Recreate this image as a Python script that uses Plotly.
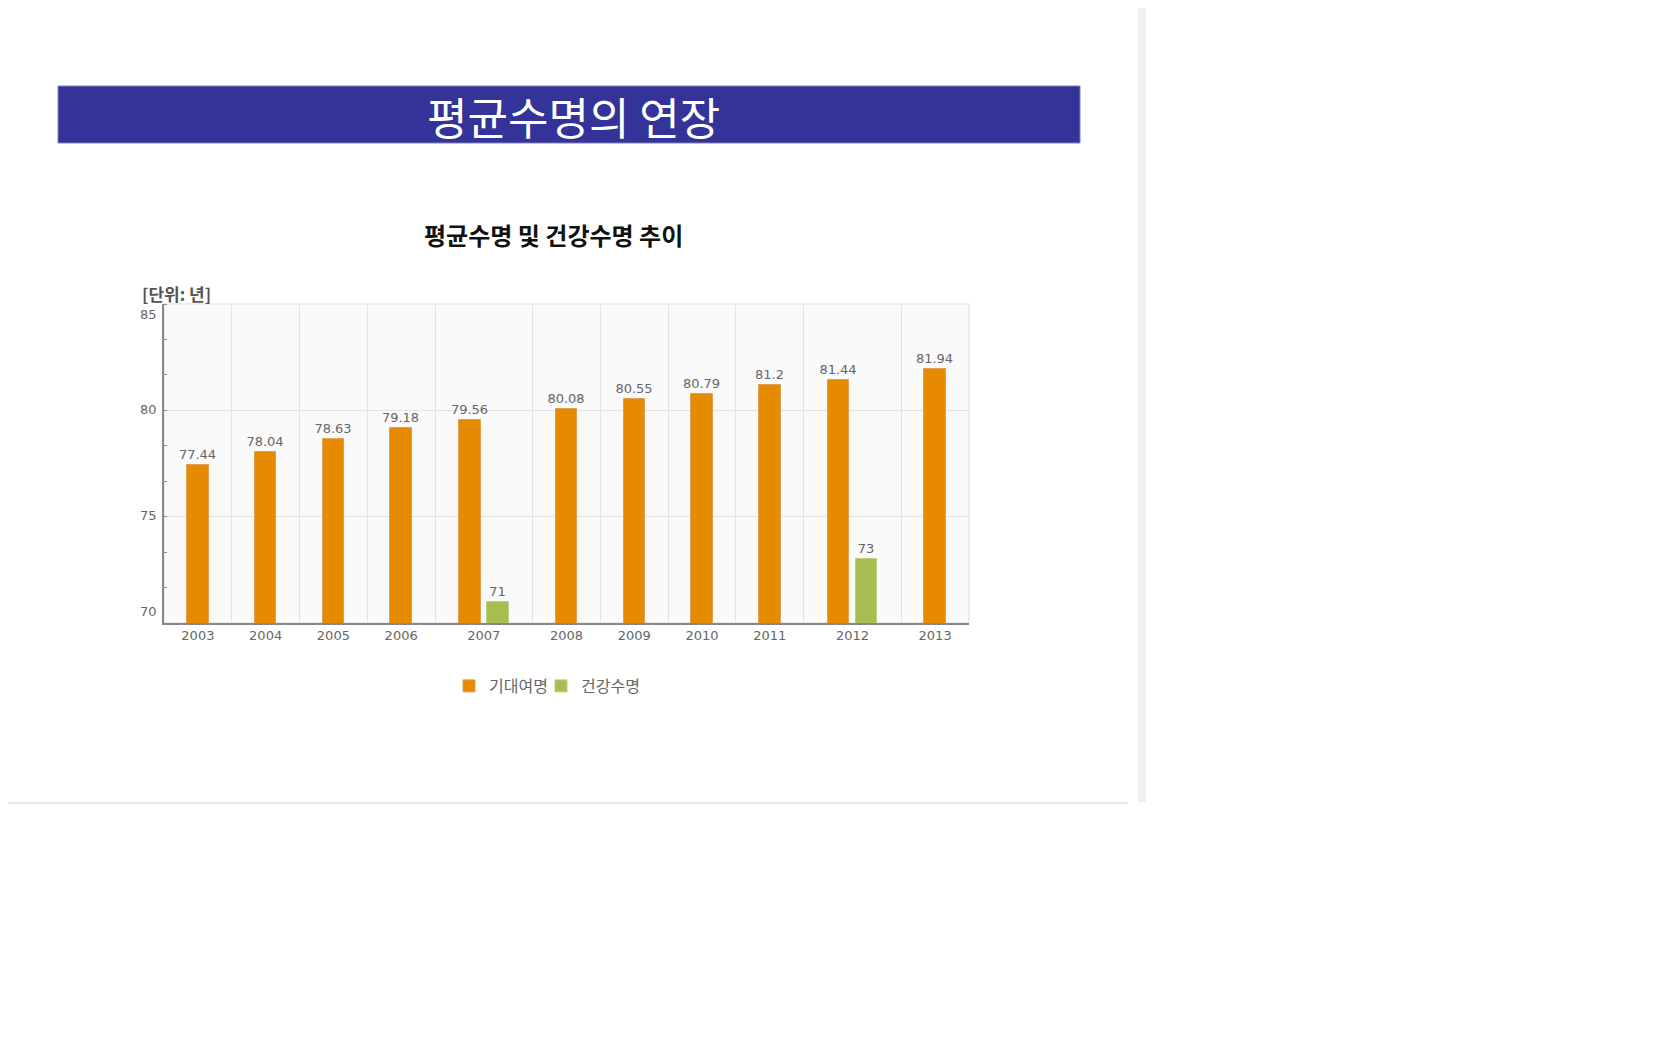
import plotly.graph_objects as go

# 평균수명 및 건강수명 추이 (단위: 년)
years = ["2003", "2004", "2005", "2006", "2007", "2008", "2009", "2010", "2011", "2012", "2013"]
life_expectancy = [77.44, 78.04, 78.63, 79.18, 79.56, 80.08, 80.55, 80.79, 81.2, 81.44, 81.94]
healthy_life = [None, None, None, None, 71, None, None, None, None, 73, None]
series_names = ["기대여명", "건강수명"]
y_ticks = [70, 75, 80, 85]

# 페이지 기본 여백(8px)을 빼고 그림 크기를 잡는다
PAD = 8
W, H = 1680 - 2 * PAD, 1050 - 2 * PAD


def px_x(v):
    return (v - PAD) / W


def px_y(v):
    return 1 - (v - PAD) / H


# 두 계열이 있는 연도는 칸을 넓게
widths = [1.44 if h is not None else 1.0 for h in healthy_life]
edges = [0.0]
for w in widths:
    edges.append(edges[-1] + w)
centers = [(edges[i] + edges[i + 1]) / 2 for i in range(len(years))]
offset = 0.206
bar_w = 0.317

x_life = [c - offset if h is not None else c for c, h in zip(centers, healthy_life)]
x_healthy = [c + offset for c, h in zip(centers, healthy_life) if h is not None]
y_healthy = [h for h in healthy_life if h is not None]

label_font = dict(family="DejaVu Sans, Noto Sans CJK KR", size=13, color="#666666")
legend_font = dict(family="Noto Sans CJK KR", size=16, color="#666666")

fig = go.Figure()
fig.add_trace(
    go.Bar(
        x=x_life,
        y=life_expectancy,
        width=bar_w,
        name=series_names[0],
        marker=dict(color="#E68A00", line=dict(color="#E0A050", width=1)),
        text=[str(v) for v in life_expectancy],
        textposition="outside",
        textfont=label_font,
        constraintext="none",
        cliponaxis=False,
        legend="legend",
    )
)
fig.add_trace(
    go.Bar(
        x=x_healthy,
        y=y_healthy,
        width=bar_w,
        name=series_names[1],
        marker=dict(color="#A6BD4F", line=dict(color="#C0D080", width=1)),
        text=[str(v) for v in y_healthy],
        textposition="outside",
        textfont=label_font,
        constraintext="none",
        cliponaxis=False,
        legend="legend2",
    )
)

fig.update_layout(
    width=W,
    height=H,
    margin=dict(l=0, r=0, t=0, b=0),
    paper_bgcolor="white",
    plot_bgcolor="#FAFAFA",
    barmode="overlay",
    bargap=0,
    showlegend=True,
    # 범례 두 개를 따로 두어 간격을 맞춘다
    legend=dict(
        orientation="h", x=px_x(449), xanchor="left", y=px_y(686), yanchor="middle",
        font=legend_font, itemwidth=30, bgcolor="rgba(0,0,0,0)",
    ),
    legend2=dict(
        orientation="h", x=px_x(541), xanchor="left", y=px_y(686), yanchor="middle",
        font=legend_font, itemwidth=30, bgcolor="rgba(0,0,0,0)",
    ),
    xaxis=dict(
        domain=[px_x(164), px_x(969)],
        range=[edges[0], edges[-1]],
        tickmode="array",
        tickvals=centers,
        ticktext=years,
        showgrid=False,
        zeroline=False,
        showline=True,
        linecolor="#888888",
        linewidth=1.5,
        ticks="",
        tickfont=label_font,
        minor=dict(
            tickmode="array",
            tickvals=edges[1:-1],
            showgrid=True,
            gridcolor="#E2E2E2",
            gridwidth=1,
            ticks="",
        ),
        fixedrange=True,
    ),
    yaxis=dict(
        domain=[px_y(623), px_y(304)],
        range=[70, 85],
        tickmode="array",
        tickvals=y_ticks,
        showticklabels=False,
        showgrid=True,
        gridcolor="#E2E2E2",
        zeroline=False,
        showline=True,
        linecolor="#888888",
        linewidth=1.5,
        ticks="",
        minor=dict(
            dtick=5 / 3,
            tick0=70,
            ticks="inside",
            ticklen=3,
            tickcolor="#888888",
            showgrid=False,
        ),
        fixedrange=True,
    ),
)

shapes = [
    # 플롯 테두리
    dict(
        type="rect", xref="x domain", yref="y domain", x0=0, x1=1, y0=0, y1=1,
        line=dict(color="#DDDDDD", width=1), layer="below",
    ),
    # 제목 배너
    dict(
        type="rect", xref="paper", yref="paper",
        x0=px_x(58), x1=px_x(1080), y0=px_y(143), y1=px_y(86),
        fillcolor="#333399", line=dict(color="#8282B8", width=1),
    ),
    # 페이지 오른쪽 회색 띠와 아래 선
    dict(
        type="rect", xref="paper", yref="paper",
        x0=px_x(1138), x1=px_x(1146), y0=px_y(802), y1=px_y(PAD),
        fillcolor="#F0F0F0", line=dict(width=0),
    ),
    dict(
        type="line", xref="paper", yref="paper",
        x0=px_x(PAD), x1=px_x(1128), y0=px_y(803), y1=px_y(803),
        line=dict(color="#D0D0D0", width=1),
    ),
]
fig.update_layout(shapes=shapes)

annotations = [
    dict(
        text="평균수명의 연장", xref="paper", yref="paper",
        x=px_x(573), y=px_y(116), xanchor="center", yanchor="middle", showarrow=False,
        font=dict(family="Noto Sans CJK KR", size=44, color="white"),
    ),
    dict(
        text="<b>평균수명 및 건강수명 추이</b>", xref="paper", yref="paper",
        x=px_x(553), y=px_y(235), xanchor="center", yanchor="middle", showarrow=False,
        font=dict(family="Noto Sans CJK KR", size=24, color="#111111"),
    ),
    dict(
        text="<b>[단위: 년]</b>", xref="paper", yref="paper",
        x=px_x(140), y=px_y(293), xanchor="left", yanchor="middle", showarrow=False,
        font=dict(family="Noto Sans CJK KR", size=17, color="#555555"),
    ),
]

# y축 눈금 글자: 양 끝 글자는 축 안쪽으로 붙여 둔다
for v in y_ticks:
    shift = -11 if v == y_ticks[-1] else (12 if v == y_ticks[0] else 1)
    annotations.append(
        dict(
            text=str(v), xref="paper", yref="y", x=px_x(159), y=v,
            xanchor="right", yanchor="middle", yshift=shift, showarrow=False,
            font=label_font,
        )
    )
fig.update_layout(annotations=annotations)

fig.write_html("out.html")
